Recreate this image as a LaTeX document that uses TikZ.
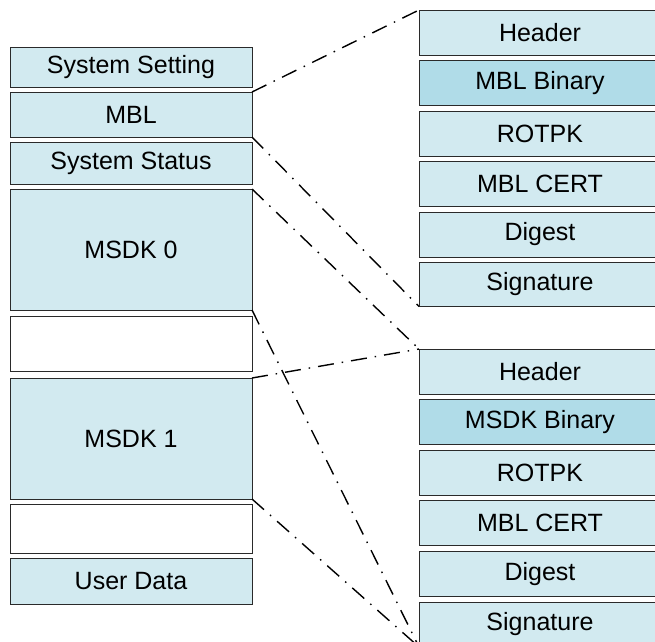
\documentclass[tikz,border=0pt]{standalone}
\usepackage{fontspec}
\setmainfont{Liberation Sans}
\definecolor{cellfill}{HTML}{D2EAF0}
\definecolor{binfill}{HTML}{B0DCE8}
\definecolor{celledge}{HTML}{2A2A2A}
\begin{document}
\begin{tikzpicture}[x=1pt,y=-1pt,
  cell/.style={draw=celledge, line width=1pt, fill=cellfill, anchor=north west,
    inner sep=0pt, outer sep=0pt, minimum width=242pt,
    font=\fontsize{25}{29}\selectfont},
  emptycell/.style={cell, fill=white},
  bincell/.style={cell, fill=binfill},
  link/.style={line width=1.4pt, dash pattern=on 16pt off 8pt on 1.5pt off 8pt}]
\useasboundingbox (0,0) rectangle (655,641);
\clip (0,0) rectangle (655,641);

% flash layout (left column)
\node[cell, minimum height=40pt]  (sset)   at (10,47)  {System Setting};
\node[cell, minimum height=45pt]  (mbl)    at (10,92)  {MBL};
\node[cell, minimum height=42pt]  (sstat)  at (10,142) {System Status};
\node[cell, minimum height=121pt] (msdk0)  at (10,189) {MSDK 0};
\node[emptycell, minimum height=55pt] (free0) at (10,316) {};
\node[cell, minimum height=121pt] (msdk1)  at (10,378) {MSDK 1};
\node[emptycell, minimum height=49pt] (free1) at (10,504) {};
\node[cell, minimum height=46pt]  (udata)  at (10,558) {User Data};

% MBL image layout
\node[cell, minimum height=45pt]    (ha) at (419,10)    {Header};
\node[bincell, minimum height=45pt] (ba) at (419,60.5)  {MBL Binary};
\node[cell, minimum height=45pt]    (ra) at (419,111)   {ROTPK};
\node[cell, minimum height=45pt]    (ca) at (419,161.5) {MBL CERT};
\node[cell, minimum height=45pt]    (da) at (419,212)   {Digest};
\node[cell, minimum height=44pt]    (sa) at (419,262.5) {Signature};

% MSDK image layout
\node[cell, minimum height=45pt]    (hb) at (419,349)   {Header};
\node[bincell, minimum height=45pt] (bb) at (419,399.6) {MSDK Binary};
\node[cell, minimum height=45pt]    (rb) at (419,450.2) {ROTPK};
\node[cell, minimum height=45pt]    (cb) at (419,500.8) {MBL CERT};
\node[cell, minimum height=45pt]    (db) at (419,551.4) {Digest};
\node[cell, minimum height=45pt]    (sb) at (419,602)   {Signature};

% region-to-image mapping
\draw[link] (mbl.north east)   -- (ha.north west);
\draw[link] (mbl.south east)   -- (sa.south west);
\draw[link] (msdk0.north east) -- (hb.north west);
\draw[link] (msdk0.south east) -- (sb.south west);
\draw[link] (msdk1.north east) -- (hb.north west);
\draw[link] (msdk1.south east) -- (sb.south west);
\end{tikzpicture}
\end{document}
